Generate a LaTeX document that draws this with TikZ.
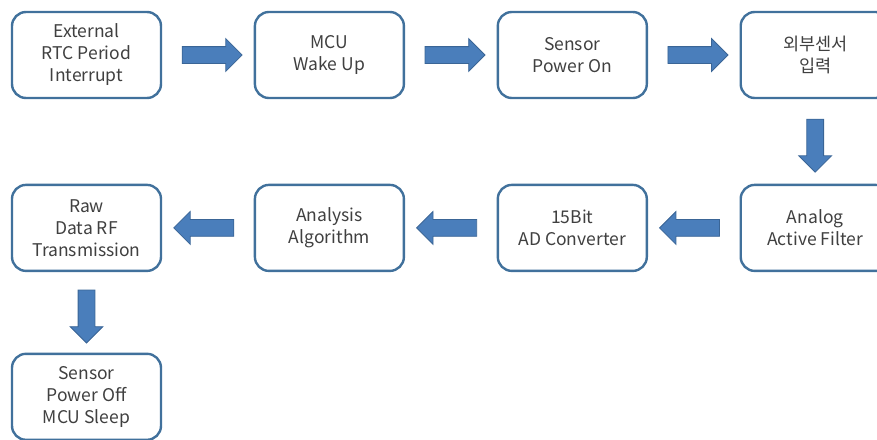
\documentclass[tikz,border=0pt]{standalone}
\usepackage{fontspec}
\newfontfamily\kor{Noto Sans CJK KR}
\usetikzlibrary{shapes.arrows,positioning,calc}
\definecolor{boxblue}{HTML}{41719C}
\definecolor{arrowfill}{HTML}{4A7EBB}
\definecolor{arrowline}{HTML}{3A6596}
\definecolor{txtgray}{HTML}{404040}

\begin{document}
\begin{tikzpicture}[x=1pt,y=1pt,node distance=91.5pt]
  \tikzstyle{stage}=[rectangle,rounded corners=14pt,line width=2.4pt,draw=boxblue,fill=white,
    minimum width=149pt,minimum height=86pt,align=center,text=txtgray,inner sep=0pt,
    font=\kor\fontsize{17.5}{22}\selectfont]
  \tikzstyle{flow}=[single arrow,draw=arrowline,line width=0.8pt,fill=arrowfill,
    minimum width=32pt,single arrow head extend=8pt,inner sep=8pt,minimum height=60pt]
  \tikzstyle{backflow}=[flow,shape border rotate=180]
  \tikzstyle{downflow}=[flow,shape border rotate=270,minimum height=53pt]

  \clip (0,0) rectangle (877,-439);

  \begin{scope}
    % top row, left to right
    \node [stage] (rtc) at (86.5,-55) {External\\RTC Period\\Interrupt};
    \node [stage] (wake) [right=of rtc] {MCU\\Wake Up};
    \node [stage] (pwron) [right=of wake] {Sensor\\Power On};
    \node [stage] (input) [right=of pwron] {외부센서\\입력};
    % second row, right to left
    \node [stage] (filter) [below=84.5pt of input] {Analog\\Active Filter};
    \node [stage] (adc) [left=of filter] {15Bit\\AD Converter};
    \node [stage] (algo) [left=of adc] {Analysis\\Algorithm};
    \node [stage] (rf) [left=of algo] {Raw\\Data RF\\Transmission};
    \node [stage] (sleep) [below=80.5pt of rf] {Sensor\\Power Off\\MCU Sleep};
  \end{scope}

  \begin{scope}
    \node [flow] (rtc-wake) at ($(rtc.east)!.5!(wake.west)$) {};
    \node [flow] (wake-pwron) at ($(wake.east)!.5!(pwron.west)$) {};
    \node [flow] (pwron-input) at ($(pwron.east)!.5!(input.west)$) {};
    \node [downflow] (input-filter) at ($(input.south)!.5!(filter.north)$) {};
    \node [backflow] (filter-adc) at ($(filter.west)!.5!(adc.east)$) {};
    \node [backflow] (adc-algo) at ($(adc.west)!.5!(algo.east)$) {};
    \node [backflow] (algo-rf) at ($(algo.west)!.5!(rf.east)$) {};
    \node [downflow] (rf-sleep) at ($(rf.south)!.5!(sleep.north)$) {};
  \end{scope}
\end{tikzpicture}
\end{document}
